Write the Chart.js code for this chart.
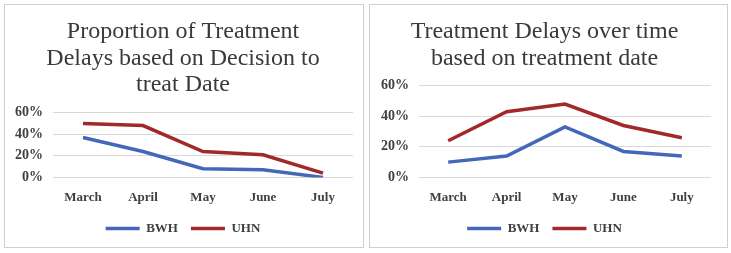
<!DOCTYPE html>
<html><head><meta charset="utf-8">
<script src="https://cdn.jsdelivr.net/npm/chart.js@4.4.0/dist/chart.umd.min.js"></script>
<style>
html,body{margin:0;padding:0;background:#fff;width:731px;height:253px;overflow:hidden;}
.panel{position:absolute;border:1px solid #cfcfcf;background:#fff;}
canvas{display:block;}
</style></head>
<body>
<div class="panel" style="left:4px;top:4px;width:358px;height:242px;"><canvas id="c1" width="358" height="242"></canvas></div>
<div class="panel" style="left:369px;top:4px;width:357px;height:242px;"><canvas id="c2" width="357" height="242"></canvas></div>
<script>
const months = ["March", "April", "May", "June", "July"];
const seriesNames = ["BWH", "UHN"];
const decisionBWH = [37, 24, 8, 7, 0];
const decisionUHN = [50, 48, 24, 21, 4];
const treatmentBWH = [10, 14, 33, 17, 14];
const treatmentUHN = [24, 43, 48, 34, 26];
const yTicks = [0, 20, 40, 60];
const title1 = ["Proportion of Treatment", "Delays based on Decision to", "treat Date"];
const title2 = ["Treatment Delays over time", "based on treatment date"];

const BLUE = '#4467b9';
const RED = '#a2292b';
const TXT = '#404040';
const SERIF = "'Liberation Serif', 'DejaVu Serif', serif";

function makeChart(id, title, a, b, pad, yw, titlePad) {
  new Chart(document.getElementById(id), {
    type: 'line',
    data: {
      labels: months,
      datasets: [
        {label: seriesNames[0], data: a, borderColor: BLUE, backgroundColor: BLUE, borderWidth: 3.5, pointRadius: 0, tension: 0},
        {label: seriesNames[1], data: b, borderColor: RED, backgroundColor: RED, borderWidth: 3.5, pointRadius: 0, tension: 0}
      ]
    },
    options: {
      responsive: false, animation: false,
      layout: {padding: pad},
      plugins: {
        title: {display: true, text: title, color: '#3a3a3a', font: {family: SERIF, size: 24, weight: 'normal', lineHeight: 1.12}, padding: titlePad},
        legend: {position: 'bottom', labels: {usePointStyle: true, pointStyle: 'line', pointStyleWidth: 34, boxHeight: 4, color: TXT, font: {family: SERIF, size: 13, weight: 'bold'}, padding: 13}},
        tooltip: {enabled: false}
      },
      scales: {
        x: {offset: true, grid: {display: false}, border: {display: false},
            ticks: {autoSkip: false, maxRotation: 0, color: TXT, font: {family: SERIF, size: 13, weight: 'bold'}, padding: 4}},
        y: {min: 0, max: 60, afterFit: s => { s.width = yw; },
            afterBuildTicks: s => { s.ticks = yTicks.map(v => ({value: v})); },
            grid: {color: '#d9d9d9', lineWidth: 1, drawTicks: false}, border: {display: false},
            ticks: {autoSkip: false, color: TXT, font: {family: SERIF, size: 14, weight: 'bold'}, padding: 10, callback: v => v + '%'}}
      }
    }
  });
}
makeChart('c1', title1, decisionBWH, decisionUHN, {left: 8, right: 10, top: 4, bottom: 2}, 40, {top: 9, bottom: 14});
makeChart('c2', title2, treatmentBWH, treatmentUHN, {left: 8, right: 16, top: 4, bottom: 2}, 41, {top: 9, bottom: 14});
</script>
</body></html>
